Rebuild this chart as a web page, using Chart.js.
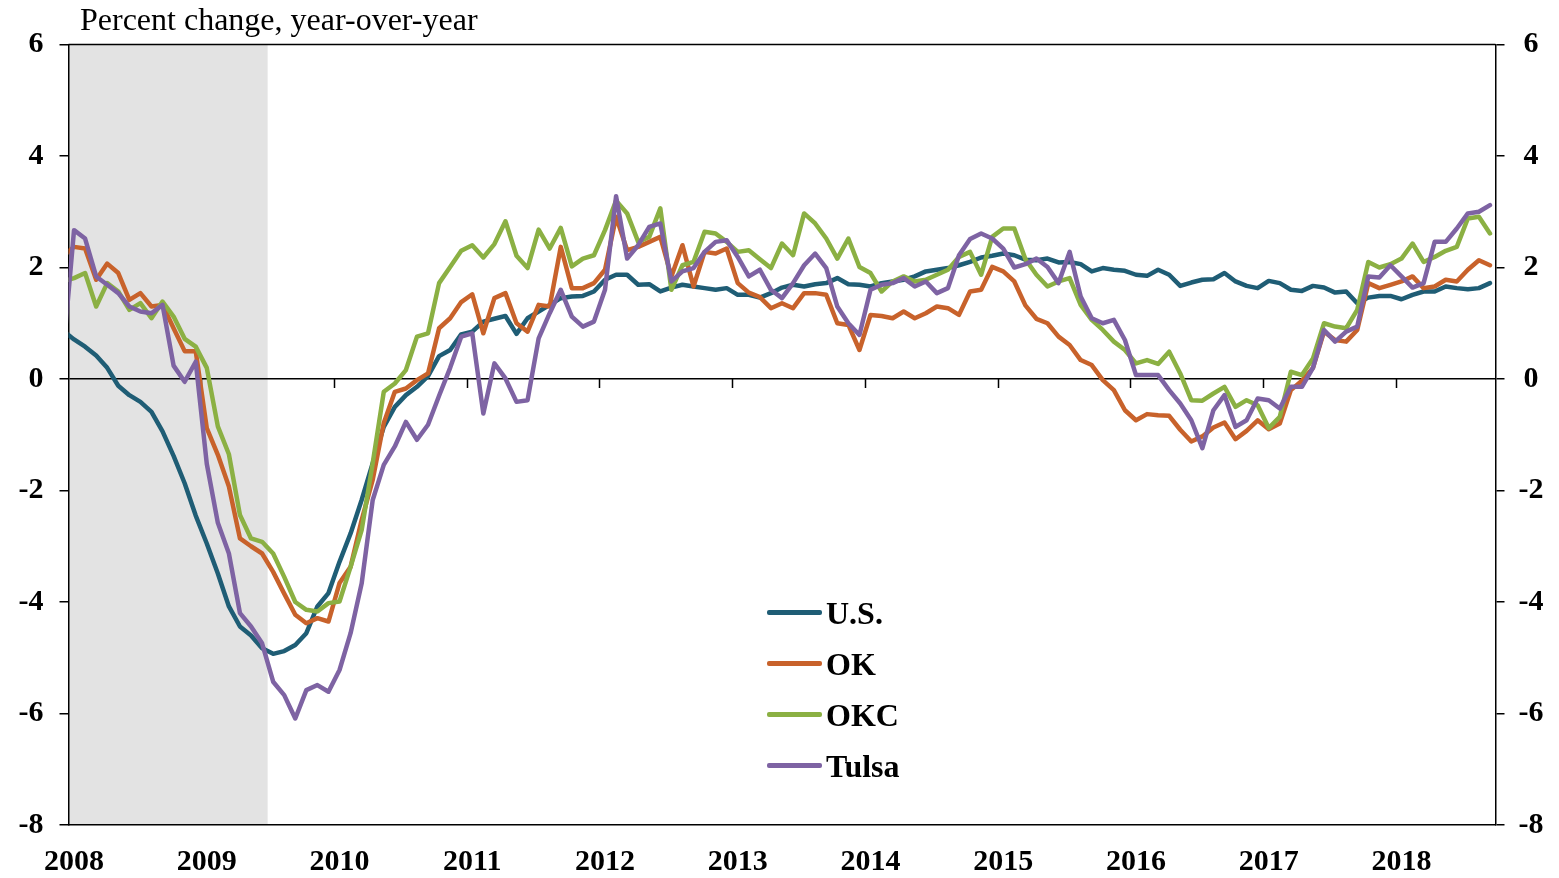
<!DOCTYPE html>
<html>
<head>
<meta charset="utf-8">
<title>Percent change, year-over-year</title>
<script src="https://cdn.jsdelivr.net/npm/chart.js@4.4.0/dist/chart.umd.min.js"></script>
<style>
  html, body { margin: 0; padding: 0; background: #fff; }
  #wrap { position: relative; width: 1559px; height: 878px; overflow: hidden; }
  #chart { position: absolute; left: 0; top: 0; }
  #title {
    position: absolute; left: 80px; top: 2.5px;
    font: 32px/32px "Liberation Serif", "Times New Roman", serif;
    color: #000; white-space: nowrap;
  }
  .key { position: absolute; left: 767px; height: 0; }
  .key .swatch { position: absolute; left: 0; top: -2px; width: 55px; height: 4.5px; border-radius: 2px; }
  .key .name {
    position: absolute; left: 59px; top: -15.5px;
    font: bold 32px/32px "Liberation Serif", "Times New Roman", serif;
    color: #000; white-space: nowrap;
  }
</style>
</head>
<body>
<div id="wrap">
  <canvas id="chart" width="1559" height="878"></canvas>
  <div id="title">Percent change, year-over-year</div>
  <div id="keys"></div>
</div>
<script>
// monthly series, first value is Dec 2007 (it sits just left of the axis and gets clipped)
const years = ['2008', '2009', '2010', '2011', '2012', '2013', '2014', '2015', '2016', '2017', '2018'];
const names = ['U.S.', 'OK', 'OKC', 'Tulsa'];
const colors = ['#1f5d75', '#c8622b', '#8bb043', '#7e63a3'];
const recession = [0, 18]; // Jan 2008 - Jun 2009, in months from Jan 2008

const us = [0.87,
  0.71, 0.58, 0.42, 0.20, -0.12, -0.29, -0.41, -0.59, -0.94, -1.38, -1.87, -2.45,
  -2.95, -3.49, -4.08, -4.44, -4.60, -4.83, -4.93, -4.88, -4.77, -4.56, -4.08, -3.84,
  -3.28, -2.77, -2.17, -1.51, -0.86, -0.50, -0.29, -0.14, 0.05, 0.41, 0.52, 0.80,
  0.85, 1.03, 1.08, 1.13, 0.81, 1.09, 1.21, 1.33, 1.45, 1.48, 1.49, 1.57,
  1.78, 1.87, 1.87, 1.69, 1.70, 1.57, 1.64, 1.69, 1.66, 1.63, 1.60, 1.63,
  1.51, 1.51, 1.46, 1.54, 1.64, 1.69, 1.66, 1.70, 1.72, 1.81, 1.70, 1.69,
  1.66, 1.72, 1.75, 1.78, 1.84, 1.93, 1.96, 1.99, 2.04, 2.10, 2.18, 2.21,
  2.25, 2.22, 2.14, 2.13, 2.16, 2.09, 2.10, 2.06, 1.93, 1.99, 1.96, 1.94,
  1.87, 1.85, 1.96, 1.87, 1.67, 1.73, 1.78, 1.79, 1.90, 1.75, 1.67, 1.63,
  1.76, 1.72, 1.60, 1.58, 1.67, 1.64, 1.55, 1.57, 1.36, 1.46, 1.49, 1.49,
  1.43, 1.51, 1.57, 1.57, 1.66, 1.63, 1.61, 1.63, 1.72];

const ok = [2.2,
  2.37, 2.34, 1.78, 2.07, 1.90, 1.42, 1.54, 1.30, 1.33, 0.91, 0.50, 0.50,
  -0.88, -1.36, -1.93, -2.86, -3.00, -3.13, -3.46, -3.85, -4.23, -4.38, -4.29, -4.35,
  -3.66, -3.37, -2.53, -1.81, -0.79, -0.23, -0.17, -0.02, 0.10, 0.91, 1.09, 1.38,
  1.52, 0.82, 1.45, 1.54, 1.00, 0.85, 1.33, 1.30, 2.37, 1.63, 1.63, 1.72,
  1.96, 2.91, 2.31, 2.37, 2.46, 2.55, 1.84, 2.40, 1.66, 2.28, 2.25, 2.34,
  1.72, 1.55, 1.47, 1.27, 1.36, 1.27, 1.54, 1.54, 1.51, 1.00, 0.97, 0.52,
  1.15, 1.13, 1.09, 1.21, 1.09, 1.18, 1.30, 1.27, 1.15, 1.57, 1.60, 2.01,
  1.93, 1.75, 1.32, 1.08, 1.00, 0.76, 0.61, 0.34, 0.25, -0.02, -0.20, -0.56,
  -0.74, -0.63, -0.65, -0.66, -0.91, -1.12, -1.03, -0.87, -0.78, -1.08, -0.93, -0.74,
  -0.90, -0.80, -0.20, -0.03, 0.20, 0.85, 0.70, 0.67, 0.88, 1.72, 1.63, 1.69,
  1.75, 1.84, 1.63, 1.66, 1.78, 1.75, 1.96, 2.13, 2.04];

const okc = [1.75,
  1.81, 1.90, 1.30, 1.72, 1.57, 1.24, 1.36, 1.09, 1.39, 1.12, 0.72, 0.58,
  0.20, -0.85, -1.35, -2.44, -2.86, -2.92, -3.13, -3.55, -4.00, -4.14, -4.17, -4.02,
  -3.99, -3.37, -2.71, -1.51, -0.23, -0.08, 0.16, 0.76, 0.82, 1.72, 2.01, 2.30,
  2.40, 2.18, 2.42, 2.83, 2.21, 1.99, 2.68, 2.34, 2.71, 2.02, 2.16, 2.22,
  2.67, 3.20, 2.97, 2.46, 2.55, 3.06, 1.60, 2.04, 2.10, 2.64, 2.61, 2.46,
  2.28, 2.31, 2.15, 1.99, 2.43, 2.22, 2.97, 2.79, 2.52, 2.16, 2.52, 2.01,
  1.90, 1.57, 1.75, 1.84, 1.75, 1.78, 1.87, 1.96, 2.19, 2.28, 1.87, 2.55,
  2.70, 2.70, 2.15, 1.87, 1.66, 1.75, 1.81, 1.33, 1.06, 0.88, 0.67, 0.52,
  0.28, 0.34, 0.27, 0.49, 0.10, -0.38, -0.39, -0.26, -0.14, -0.50, -0.38, -0.47,
  -0.88, -0.68, 0.13, 0.07, 0.37, 1.00, 0.94, 0.91, 1.24, 2.10, 2.00, 2.06,
  2.16, 2.43, 2.10, 2.19, 2.30, 2.37, 2.88, 2.91, 2.61];

const tulsa = [0.41,
  2.67, 2.52, 1.84, 1.69, 1.54, 1.30, 1.21, 1.18, 1.33, 0.24, -0.05, 0.31,
  -1.52, -2.58, -3.13, -4.20, -4.44, -4.74, -5.43, -5.67, -6.09, -5.58, -5.49, -5.61,
  -5.22, -4.56, -3.67, -2.17, -1.54, -1.21, -0.77, -1.09, -0.82, -0.30, 0.20, 0.76,
  0.82, -0.62, 0.28, 0.01, -0.41, -0.38, 0.73, 1.18, 1.60, 1.12, 0.94, 1.03,
  1.60, 3.28, 2.16, 2.40, 2.73, 2.79, 1.75, 1.93, 1.99, 2.28, 2.46, 2.49,
  2.19, 1.84, 1.96, 1.60, 1.45, 1.72, 2.04, 2.25, 1.99, 1.30, 1.00, 0.79,
  1.60, 1.69, 1.72, 1.81, 1.66, 1.75, 1.54, 1.63, 2.22, 2.51, 2.61, 2.52,
  2.34, 2.00, 2.06, 2.16, 2.01, 1.72, 2.28, 1.48, 1.09, 1.00, 1.06, 0.70,
  0.07, 0.07, 0.07, -0.20, -0.44, -0.74, -1.24, -0.56, -0.29, -0.86, -0.74, -0.35,
  -0.38, -0.53, -0.14, -0.14, 0.20, 0.88, 0.67, 0.85, 0.94, 1.84, 1.82, 2.04,
  1.84, 1.64, 1.72, 2.46, 2.46, 2.70, 2.97, 3.00, 3.12];

const serif = '"Liberation Serif", "Times New Roman", serif';

// gray recession band, box top and the little year ticks on the zero line
const frame = {
  id: 'frame',
  beforeDraw(chart) {
    const { ctx, chartArea: area, scales: { x } } = chart;
    const x0 = x.getPixelForValue(recession[0]);
    const x1 = x.getPixelForValue(recession[1]);
    ctx.save();
    ctx.fillStyle = '#e3e3e3';
    ctx.fillRect(x0, area.top, x1 - x0, area.bottom - area.top);
    ctx.restore();
  },
  beforeDatasetsDraw(chart) {
    const { ctx, chartArea: area, scales: { x, y } } = chart;
    const zero = y.getPixelForValue(0);
    ctx.save();
    ctx.strokeStyle = '#000';
    ctx.lineWidth = 1.5;
    ctx.beginPath();
    ctx.moveTo(area.left, area.top);
    ctx.lineTo(area.right, area.top);
    for (let k = 1; k < years.length; k++) {
      const px = Math.round(x.getPixelForValue(12 * k)) + 0.5;
      ctx.moveTo(px, zero);
      ctx.lineTo(px, zero + 9);
    }
    ctx.stroke();
    ctx.restore();
  }
};

const series = [us, ok, okc, tulsa];

new Chart(document.getElementById('chart'), {
  type: 'line',
  data: {
    datasets: series.map((vals, s) => ({
      label: names[s],
      data: vals.map((v, k) => ({ x: k - 0.5, y: v })),
      borderColor: colors[s],
      backgroundColor: colors[s],
      borderWidth: 4.5,
      pointRadius: 0,
      tension: 0,
      clip: 0,
      borderJoinStyle: 'round',
      borderCapStyle: 'round',
      order: series.length - s
    }))
  },
  options: {
    responsive: false,
    animation: false,
    layout: { padding: { top: 44.5 } },
    plugins: { legend: { display: false }, tooltip: { enabled: false } },
    scales: {
      x: {
        type: 'linear',
        min: 0,
        max: 129,
        afterFit: s => { s.height = 53; },
        afterBuildTicks: s => { s.ticks = years.map((_, k) => ({ value: 12 * k + 0.5 })); },
        ticks: {
          autoSkip: false,
          maxRotation: 0,
          padding: 19,
          color: '#000',
          font: { family: serif, size: 30, weight: 'bold' },
          callback: (v, i) => years[i]
        },
        grid: { display: false, drawTicks: false },
        border: { display: true, color: '#000', width: 1.5 }
      },
      y: {
        position: 'left',
        min: -8,
        max: 6,
        afterFit: s => { s.width = 68.5; },
        ticks: {
          stepSize: 2,
          padding: 16,
          color: '#000',
          font: { family: serif, size: 30, weight: 'bold' }
        },
        grid: {
          color: c => (c.tick && c.tick.value === 0 ? '#000' : 'rgba(0,0,0,0)'),
          lineWidth: 1.5,
          tickColor: '#000',
          tickLength: 9
        },
        border: { color: '#000', width: 1.5 }
      },
      y2: {
        position: 'right',
        min: -8,
        max: 6,
        afterFit: s => { s.width = 63.5; },
        ticks: {
          stepSize: 2,
          padding: 14,
          crossAlign: 'center',
          color: '#000',
          font: { family: serif, size: 30, weight: 'bold' }
        },
        grid: { drawOnChartArea: false, color: '#000', lineWidth: 1.5, tickLength: 9 },
        border: { color: '#000', width: 1.5 }
      }
    }
  },
  plugins: [frame]
});

// legend inside the plot, as html text
const keys = document.getElementById('keys');
names.forEach((name, s) => {
  const row = document.createElement('div');
  row.className = 'key';
  row.style.top = (612.3 + 51 * s) + 'px';
  row.innerHTML = '<span class="swatch" style="background:' + colors[s] + '"></span><span class="name">' + name + '</span>';
  keys.appendChild(row);
});
</script>
</body>
</html>
